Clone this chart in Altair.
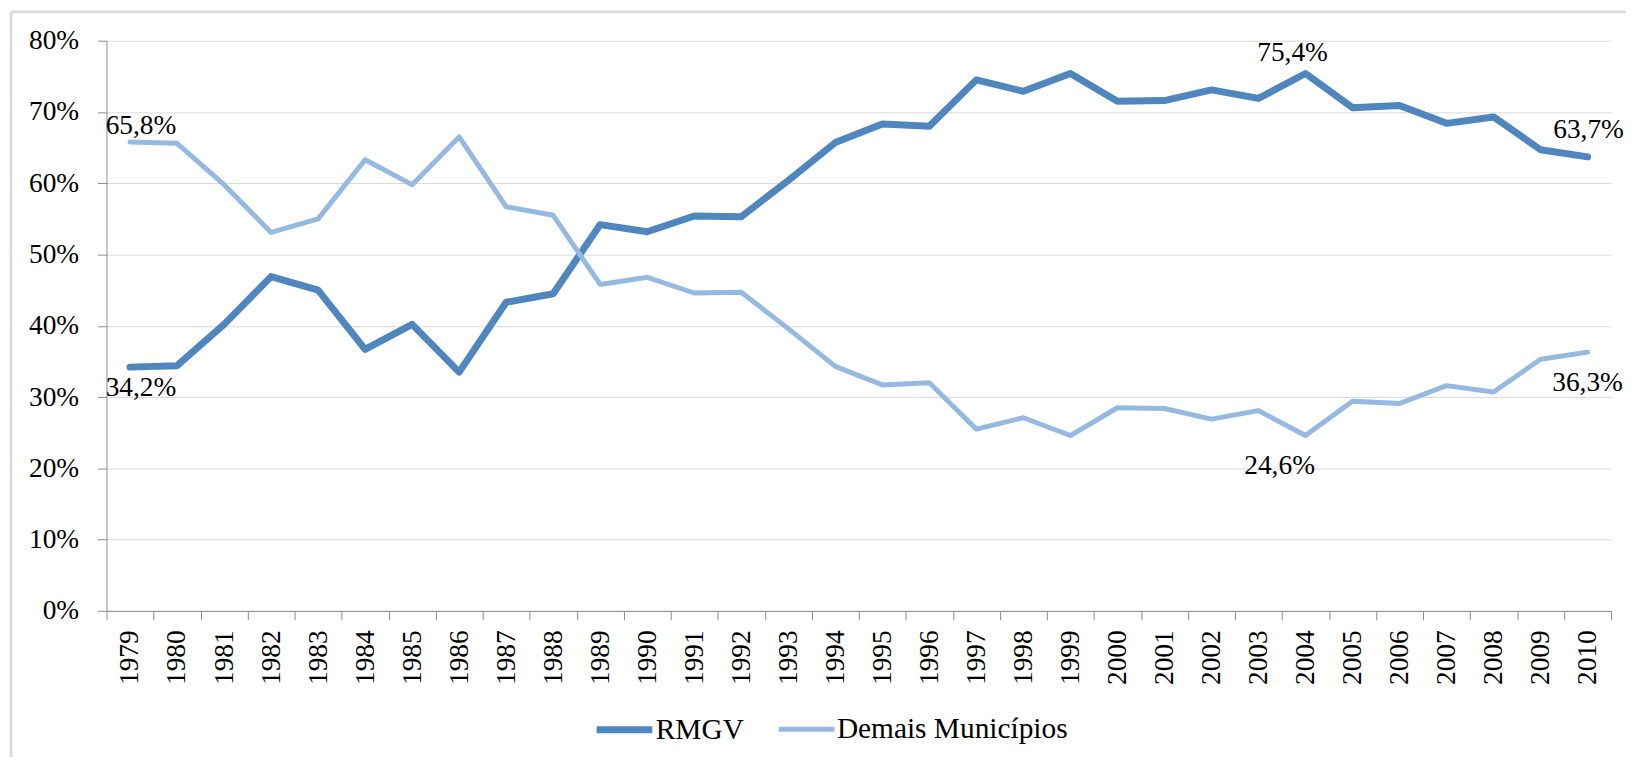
import altair as alt
import pandas as pd

years = list(range(1979, 2011))
rmgv = [34.2, 34.4, 40.2, 46.9, 45.0, 36.7, 40.2, 33.5, 43.3, 44.5, 54.2, 53.2,
        55.4, 55.3, 60.4, 65.7, 68.3, 68.0, 74.5, 72.9, 75.4, 71.5, 71.6, 73.1,
        71.9, 75.4, 70.6, 70.9, 68.4, 69.3, 64.7, 63.7]
demais = [65.8, 65.6, 59.8, 53.1, 55.0, 63.3, 59.8, 66.5, 56.7, 55.5, 45.8, 46.8,
          44.6, 44.7, 39.6, 34.3, 31.7, 32.0, 25.5, 27.1, 24.6, 28.5, 28.4, 26.9,
          28.1, 24.6, 29.4, 29.1, 31.6, 30.7, 35.3, 36.3]
series_names = ["RMGV", "Demais Municípios"]
series_colors = ["#4F86BE", "#95B9E0"]
series_widths = [7, 5]
y_ticks = [0, 0.1, 0.2, 0.3, 0.4, 0.5, 0.6, 0.7, 0.8]
# labelled points: (series, year, dx, dy)
labelled = [
    ("Demais Municípios", "1979", 11, -16),
    ("RMGV", "1979", 11, 21),
    ("RMGV", "2004", -13, -21),
    ("Demais Municípios", "2004", -26, 31),
    ("RMGV", "2010", 1, -27),
    ("Demais Municípios", "2010", 0, 31),
]

rows = []
for yr, a, b in zip(years, rmgv, demais):
    rows.append({"ano": str(yr), "serie": "RMGV", "valor": a / 100})
    rows.append({"ano": str(yr), "serie": "Demais Municípios", "valor": b / 100})
df = pd.DataFrame(rows)

FONT = "Liberation Serif, Times New Roman, serif"
FS = 27.5
LEG_FS = 29.5
AXIS_GRAY = "#8C8C8C"

x_enc = alt.X(
    "ano:O",
    title=None,
    scale=alt.Scale(type="band", paddingInner=0, paddingOuter=0),
    axis=alt.Axis(
        tickBand="extent", labelAngle=270, tickSize=9, labelPadding=10,
        grid=False, domainColor=AXIS_GRAY, tickColor=AXIS_GRAY,
        labelFont=FONT, labelFontSize=FS, labelColor="black",
    ),
)
y_enc = alt.Y(
    "valor:Q",
    title=None,
    scale=alt.Scale(domain=[0, 0.8]),
    axis=alt.Axis(
        values=y_ticks, format=".0%", tickSize=9, labelPadding=19,
        domainColor=AXIS_GRAY, tickColor=AXIS_GRAY, gridColor="#D9D9D9",
        labelFont=FONT, labelFontSize=FS, labelColor="black",
    ),
)

legend = alt.Legend(
    orient="none", legendX=489, legendY=661, direction="horizontal",
    symbolType="stroke", symbolSize=3136, labelFont=FONT, labelFontSize=LEG_FS,
    labelColor="black", labelOffset=0, columnPadding=24, padding=0,
    labelLimit=500,
)

lines = alt.Chart(df).mark_line(strokeCap="round", strokeJoin="round").encode(
    x=x_enc,
    y=y_enc,
    color=alt.Color("serie:N", title=None, sort=series_names,
                    scale=alt.Scale(domain=series_names, range=series_colors),
                    legend=legend),
    strokeWidth=alt.StrokeWidth("serie:N", title=None, sort=series_names,
                                scale=alt.Scale(domain=series_names, range=series_widths),
                                legend=legend),
    order=alt.Order("ano:O"),
)

layers = [lines]
for serie, ano, dx, dy in labelled:
    t = (
        alt.Chart(df)
        .transform_filter(f"datum.serie == '{serie}' && datum.ano == '{ano}'")
        .transform_calculate(rotulo="replace(format(datum.valor, '.1%'), '.', ',')")
        .mark_text(font=FONT, fontSize=FS, color="black", align="center",
                   baseline="middle", dx=dx, dy=dy)
        .encode(x="ano:O", y="valor:Q", text="rotulo:N")
    )
    layers.append(t)

frame_df = pd.DataFrame({"k": [0]})
frame_left = alt.Chart(frame_df).mark_rule(color="#D9D9D9", strokeWidth=2.5).encode(
    x=alt.value(-96), y=alt.value(-29), y2=alt.value(760))
frame_top = alt.Chart(frame_df).mark_rule(color="#D9D9D9", strokeWidth=2.5).encode(
    x=alt.value(-96), x2=alt.value(1540), y=alt.value(-29))
layers += [frame_left, frame_top]

chart = (
    alt.layer(*layers)
    .properties(
        width=1512, height=573,
        autosize=alt.AutoSizeParams(type="none"),
        padding={"left": 99, "top": 31, "right": 15, "bottom": 145},
        background="white",
    )
    .configure_view(strokeWidth=0)
)

chart.save("out.html", embed_options={"renderer": "svg", "actions": False})
